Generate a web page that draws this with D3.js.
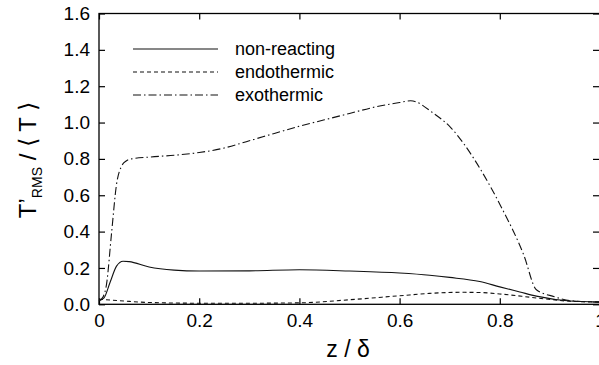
<!DOCTYPE html>
<html><head><meta charset="utf-8">
<script src="https://cdn.jsdelivr.net/npm/d3@7"></script>
<style>body{margin:0;background:#fff}svg{display:block}</style>
</head><body>
<svg id="c" width="599" height="365"></svg>
<script>
const xTicks = [0, 0.2, 0.4, 0.6, 0.8, 1];
const xTickLabels = ["0", "0.2", "0.4", "0.6", "0.8", "1"];
const yTicks = [0, 0.2, 0.4, 0.6, 0.8, 1.0, 1.2, 1.4, 1.6];
const yTickLabels = ["0.0", "0.2", "0.4", "0.6", "0.8", "1.0", "1.2", "1.4", "1.6"];
const seriesNames = ["non-reacting", "endothermic", "exothermic"];
const nonReacting = [[0,0.02],[0.01,0.035],[0.022,0.12],[0.035,0.21],[0.048,0.237],[0.06,0.235],[0.1,0.205],[0.15,0.188],[0.2,0.183],[0.3,0.184],[0.4,0.19],[0.5,0.183],[0.6,0.172],[0.66,0.16],[0.7,0.148],[0.76,0.125],[0.8,0.096],[0.84,0.068],[0.873,0.045],[0.94,0.018],[1.0,0.012]];
const endothermic = [[0,0.028],[0.05,0.018],[0.1,0.01],[0.2,0.006],[0.3,0.006],[0.4,0.008],[0.5,0.025],[0.6,0.047],[0.66,0.06],[0.72,0.066],[0.76,0.065],[0.8,0.057],[0.873,0.035],[0.94,0.017],[1.0,0.013]];
const exothermic = [[0,0.02],[0.008,0.04],[0.015,0.11],[0.025,0.39],[0.035,0.66],[0.045,0.76],[0.055,0.79],[0.065,0.80],[0.1,0.81],[0.15,0.82],[0.2,0.835],[0.25,0.86],[0.3,0.9],[0.35,0.94],[0.4,0.98],[0.45,1.015],[0.5,1.05],[0.55,1.085],[0.6,1.11],[0.622,1.12],[0.668,1.05],[0.703,0.97],[0.729,0.88],[0.762,0.74],[0.802,0.54],[0.848,0.27],[0.873,0.08],[0.909,0.042],[0.94,0.02],[1.0,0.012]];

const svg = d3.select("#c");
const L = 99, R = 600, T = 13.5, B = 304.3;
const x = d3.scaleLinear().domain([0,1]).range([L,R]);
const y = d3.scaleLinear().domain([0,1.6]).range([B,T]);
const font = "'Liberation Sans', Arial, sans-serif";

// frame
svg.append("rect").attr("x",L).attr("y",T).attr("width",R-L).attr("height",B-T)
  .attr("fill","none").attr("stroke","#000").attr("stroke-width",1.3);

// axes with inward ticks
const tk = 6;
const gB = svg.append("g").attr("transform",`translate(0,${B})`)
  .call(d3.axisBottom(x).tickValues(xTicks).tickSize(-tk).tickPadding(tk+3).tickFormat((d,i)=>xTickLabels[i]));
const gT = svg.append("g").attr("transform",`translate(0,${T})`)
  .call(d3.axisTop(x).tickValues(xTicks).tickSize(-tk).tickFormat(""));
const gL = svg.append("g").attr("transform",`translate(${L},0)`)
  .call(d3.axisLeft(y).tickValues(yTicks).tickSize(-tk).tickPadding(tk+3).tickFormat((d,i)=>yTickLabels[i]));
const gR = svg.append("g").attr("transform",`translate(${R-1},0)`)
  .call(d3.axisRight(y).tickValues(yTicks).tickSize(-tk).tickFormat(""));
[gB,gT,gL,gR].forEach(g=>{
  g.select(".domain").remove();
  g.selectAll(".tick line").attr("stroke","#000").attr("stroke-width",1.2);
  g.selectAll("text").attr("font-family",font).attr("font-size",19).attr("fill","#000");
});
gB.selectAll("text").attr("dy","0.71em");

// lines
const line = d3.line().x(d=>x(d[0])).y(d=>y(d[1])).curve(d3.curveMonotoneX);
const styles = [null, "4,3", "8,3,1.5,3"];
const data = [nonReacting, endothermic, exothermic];
data.forEach((s,i)=>{
  svg.append("path").datum(s).attr("d",line).attr("fill","none")
    .attr("stroke","#111").attr("stroke-width",1.1)
    .attr("stroke-dasharray",styles[i]);
});

// legend
const ly = [49, 72, 95];
seriesNames.forEach((n,i)=>{
  svg.append("line").attr("x1",133).attr("x2",218).attr("y1",ly[i]).attr("y2",ly[i])
    .attr("stroke","#111").attr("stroke-width",1.1).attr("stroke-dasharray",styles[i]);
  svg.append("text").attr("x",235).attr("y",ly[i]+6).text(n)
    .attr("font-family",font).attr("font-size",18).attr("fill","#000");
});

// axis titles
svg.append("text").attr("x",348).attr("y",357).attr("text-anchor","middle")
  .attr("font-family",font).attr("font-size",23).text("z / δ");
const yt = svg.append("text").attr("transform","translate(36,160) rotate(-90)")
  .attr("text-anchor","middle").attr("font-family",font).attr("font-size",24);
yt.append("tspan").text("T’");
yt.append("tspan").attr("font-size",14).attr("dy",6).text("RMS");
yt.append("tspan").attr("dy",-6).text(" / ⟨ T ⟩");
</script>
</body></html>
